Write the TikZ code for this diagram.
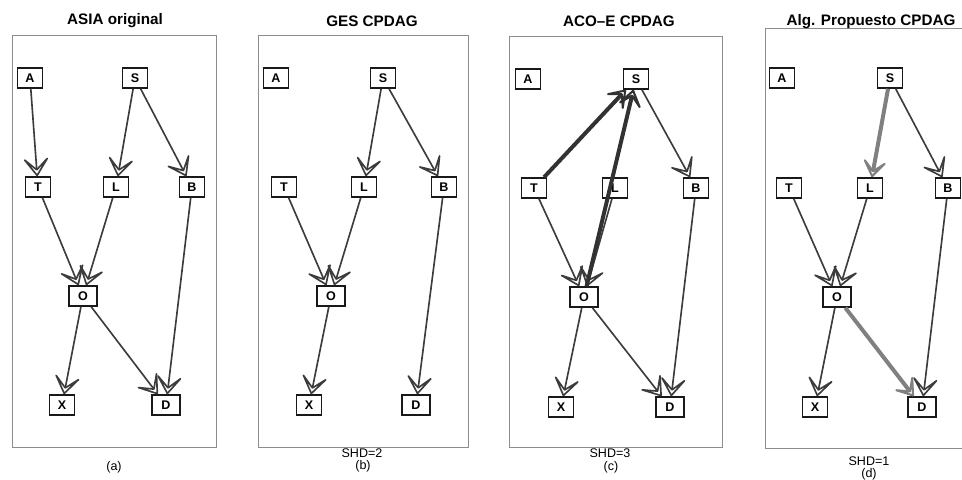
\documentclass[tikz,border=0pt]{standalone}
\usepackage{fontspec}
\setmainfont{Liberation Sans}
\usepackage{tikz}
\usepackage{xcolor}
\definecolor{tedgec}{RGB}{60,60,60}
\definecolor{tframe}{RGB}{140,140,140}
\definecolor{tdark}{RGB}{50,50,50}
\definecolor{tgray}{RGB}{128,128,128}
\usetikzlibrary{arrows.meta}

\begin{document}
\begin{tikzpicture}[x=0.03cm, y=-0.03cm]
\tikzstyle{nodeBox} = [
  shape=rectangle,
  draw = black!90,
  line width = 1.3pt,
  minimum width = 0.75cm,
  minimum height = 0.6cm,
  inner sep = 0pt,
  fill = white,
  font = \bfseries\fontsize{10.7}{12}\selectfont
]
\tikzstyle{wideBox} = [nodeBox, minimum width = 0.85cm]
\tikzstyle{tedge} = [
  draw = tedgec,
  line width = 1.4pt,
  -{Stealth[open, round, length=20pt, width=28pt, inset=13pt]}
]
\tikzstyle{tedgeDark} = [tedge, draw = tdark, line width = 3.4pt]
\tikzstyle{tedgeGray} = [tedge, draw = tgray, line width = 3.4pt]
\tikzstyle{panelFrame} = [draw = tframe, line width = 0.8pt]
\tikzstyle{title} = [font = \bfseries\fontsize{13}{15}\selectfont]
\tikzstyle{caption} = [font = \fontsize{10.7}{12}\selectfont, inner sep = 0pt]

\clip (0,0) rectangle (962,479);

% (a) ASIA original
\draw[panelFrame] (12,35) rectangle (216,447);
\node[title] (aTitle) at (115,21) {ASIA original};
\node[caption] (aCap) at (114,467) {(a)};
\node[nodeBox] (aA) at (30,78) {A};
\node[nodeBox] (aS) at (135,78) {S};
\node[nodeBox] (aT) at (38,187) {T};
\node[nodeBox] (aL) at (116,187) {L};
\node[nodeBox] (aB) at (192,187) {B};
\node[wideBox] (aO) at (83,296) {O};
\node[nodeBox] (aX) at (62,405) {X};
\node[wideBox] (aD) at (166,405) {D};
\draw[tedge] (aA) -- (aT);
\draw[tedge] (aS) -- (aL);
\draw[tedge] (aS) -- (aB);
\draw[tedge] (aT) -- (aO);
\draw[tedge] (aL) -- (aO);
\draw[tedge] (aB) -- (aD);
\draw[tedge] (aO) -- (aX);
\draw[tedge] (aO) -- (aD);

% (b) GES CPDAG
\draw[panelFrame] (258,35) rectangle (468,447);
\node[title] (bTitle) at (372,21) {GES CPDAG};
\node[caption] (bShd) at (362,453) {SHD=2};
\node[caption] (bCap) at (363,466) {(b)};
\node[nodeBox] (bA) at (276,78) {A};
\node[nodeBox] (bS) at (383,78) {S};
\node[nodeBox] (bT) at (284,187) {T};
\node[nodeBox] (bL) at (364,187) {L};
\node[nodeBox] (bB) at (444,187) {B};
\node[wideBox] (bO) at (331,296) {O};
\node[nodeBox] (bX) at (309,405) {X};
\node[wideBox] (bD) at (416,405) {D};
\draw[tedge] (bS) -- (bL);
\draw[tedge] (bS) -- (bB);
\draw[tedge] (bT) -- (bO);
\draw[tedge] (bL) -- (bO);
\draw[tedge] (bB) -- (bD);
\draw[tedge] (bO) -- (bX);

% (c) ACO-E CPDAG
\draw[panelFrame] (509,36) rectangle (722,447);
\node[title] (cTitle) at (619,21) {ACO\textendash E CPDAG};
\node[caption] (cShd) at (610,453) {SHD=3};
\node[caption] (cCap) at (611,467) {(c)};
\node[nodeBox] (cA) at (528,79) {A};
\node[nodeBox] (cS) at (636,79) {S};
\node[nodeBox] (cT) at (534,188) {T};
\node[nodeBox] (cL) at (615,188) {L};
\node[nodeBox] (cB) at (696,188) {B};
\node[wideBox] (cO) at (584,297) {O};
\node[nodeBox] (cX) at (561,407) {X};
\node[wideBox] (cD) at (670,407) {D};
\draw[tedge] (cS) -- (cB);
\draw[tedge] (cT) -- (cO);
\draw[tedge] (cL) -- (cO);
\draw[tedge] (cB) -- (cD);
\draw[tedge] (cO) -- (cX);
\draw[tedge] (cO) -- (cD);
\draw[tedgeDark] (cT) -- (cS);
\draw[tedgeDark] (cO) -- (cS);

% (d) Alg. Propuesto CPDAG
\draw[panelFrame] (765,28) rectangle (990,448);
\node[title] (dTitle) at (871,22) {Alg. Propuesto CPDAG};
\node[caption] (dShd) at (869,461) {SHD=1};
\node[caption] (dCap) at (869,474) {(d)};
\node[nodeBox] (dA) at (782,78) {A};
\node[nodeBox] (dS) at (890,78) {S};
\node[nodeBox] (dT) at (789,188) {T};
\node[nodeBox] (dL) at (870,188) {L};
\node[nodeBox] (dB) at (948,188) {B};
\node[wideBox] (dO) at (837,297) {O};
\node[nodeBox] (dX) at (815,407) {X};
\node[wideBox] (dD) at (922,407) {D};
\draw[tedge] (dS) -- (dB);
\draw[tedge] (dT) -- (dO);
\draw[tedge] (dL) -- (dO);
\draw[tedge] (dB) -- (dD);
\draw[tedge] (dO) -- (dX);
\draw[tedgeGray] (dS) -- (dL);
\draw[tedgeGray] (dO) -- (dD);

\end{tikzpicture}
\end{document}
